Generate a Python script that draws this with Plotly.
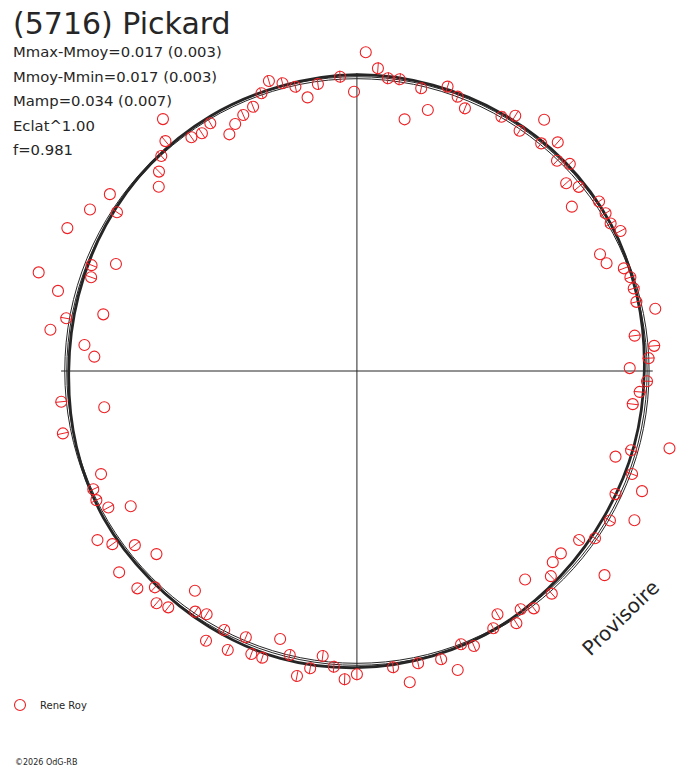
import numpy as np
import plotly.graph_objects as go

# ---------------- data ----------------
# observations: polar angle (deg, counter-clockwise from east) and radial value
OBS_THETA = [
    88.4, 86.0, 83.9, 81.6, 77.1, 90.6, 74.7, 79.2, 72.2, 69.7, 67.5, 60.2, 58.0, 55.7, 53.1,
    50.8, 48.5, 46.2, 44.0, 41.7, 39.5, 37.2, 34.8, 32.2, 30.0, 27.8, 25.5, 23.2, 20.9, 18.8,
    16.5, 13.8, 11.7, 7.2, 4.8, 2.5, 0.6,
    358.0, 355.8, 353.2, 346.2, 344.0, 341.8, 339.6, 337.3, 334.7, 331.9, 329.6, 325.1, 322.95,
    318.4, 315.9, 320.7, 313.6, 309.1, 311.4, 306.9, 304.7, 300.2, 302.5, 298.1, 291.0, 293.2,
    286.4, 288.75, 281.9, 277.0, 279.7, 270.0,
    185.9, 188.1, 191.9, 201.8, 204.0, 206.2, 208.6, 210.7, 212.9, 215.1, 217.9, 222.2, 220.05,
    224.5, 226.75, 233.4, 229.0, 231.2, 235.9, 238.1, 242.7, 247.2, 253.9, 240.6, 245.0, 249.4,
    251.6, 256.6, 263.1, 261.0, 265.5, 258.8, 267.7,
    107.0, 104.6, 102.3, 97.8, 93.3, 100.3, 109.1, 111.6, 114.1, 116.4, 118.5, 120.8, 123.3,
    125.5, 127.8, 130.0, 132.5, 135.0, 137.3, 144.6, 146.7, 149.0, 153.9, 158.4, 156.2, 160.7,
    162.9, 165.1, 169.8, 167.5, 172.4, 174.6, 176.9,
]
OBS_R = [
    318.8, 303.4, 294.4, 294.9, 290.0, 279.3, 270.6, 256.2, 298.7, 292.5, 284.3, 293.0, 301.0,
    290.8, 314.1, 293.7, 305.3, 291.2, 298.1, 282.3, 289.5, 271.8, 297.0, 296.0, 295.1, 300.2,
    271.3, 273.6, 287.8, 291.0, 290.8, 289.9, 306.9, 282.0, 300.5, 294.1, 274.8,
    292.4, 285.6, 279.8, 324.2, 287.3, 274.2, 295.7, 311.3, 288.1, 316.9, 295.5, 292.4, 280.4,
    274.7, 274.7, 322.3, 283.3, 268.6, 296.8, 296.8, 289.7, 281.5, 299.0, 291.6, 292.7, 299.2,
    300.5, 315.8, 298.7, 298.5, 315.8, 303.3,
    299.4, 257.1, 302.7, 277.6, 290.7, 292.5, 285.2, 265.0, 311.3, 301.1, 283.5, 272.6, 312.9,
    310.1, 297.0, 273.7, 307.7, 303.3, 290.6, 286.5, 291.4, 288.8, 278.9, 309.7, 307.9, 302.3,
    302.1, 292.0, 287.1, 301.0, 296.6, 310.9, 308.5,
    303.2, 297.4, 290.9, 289.7, 294.8, 278.1, 293.9, 284.2, 280.4, 275.8, 269.3, 288.4, 284.4,
    287.1, 318.8, 300.1, 291.7, 282.0, 271.6, 305.3, 289.2, 313.7, 324.8, 287.5, 265.3, 283.7,
    335.4, 311.6, 297.5, 261.7, 311.5, 275.7, 264.9,
]
# 1 = radial error bar visible for that observation
OBS_ERR_SHOWN = [
    0, 1, 1, 1, 1, 0, 0, 0, 1, 1, 1, 1, 1, 1, 0, 1, 1, 1, 1, 1, 1, 0, 1, 1, 1, 1, 0, 0, 1, 1,
    1, 1, 0, 1, 1, 1, 0,
    1, 1, 1, 0, 1, 0, 1, 0, 1, 0, 1, 1, 1, 0, 0, 0, 1, 0, 1, 1, 1, 1, 1, 1, 1, 1, 1, 0, 1, 1,
    0, 1,
    1, 0, 1, 0, 1, 1, 1, 0, 0, 1, 1, 0, 0, 1, 1, 0, 1, 1, 1, 1, 1, 1, 0, 1, 1, 1, 1, 1, 1, 1,
    1, 1, 1,
    1, 1, 1, 1, 1, 0, 1, 1, 1, 0, 0, 1, 1, 1, 0, 1, 1, 1, 0, 0, 1, 0, 0, 1, 0, 1, 0, 0, 1, 0,
    0, 0, 0,
]
ERR_HALF = 6.0

# fitted light curve (radial value every 15 deg)
FIT_THETA = [0, 15, 30, 45, 60, 75, 90, 105, 120, 135, 150, 165, 180, 195, 210, 225,
             240, 255, 270, 285, 300, 315, 330, 345, 360]
FIT_R = [289.5, 292.0, 295.0, 296.0, 296.0, 296.0, 296.3, 295.0, 294.5, 293.5, 292.0, 290.5,
         290.3, 292.5, 294.5, 294.5, 296.0, 297.5, 296.7, 295.0, 293.0, 290.0, 288.5, 289.0,
         289.5]

# reference circles (mean level) and length of the axis cross
REF_CIRCLES = [292.3, 294.3]
AXIS_R = 298.0

TITLE = "(5716) Pickard"
STATS = ["Mmax-Mmoy=0.017 (0.003)", "Mmoy-Mmin=0.017 (0.003)", "Mamp=0.034 (0.007)",
         "Eclat^1.00", "f=0.981"]
OBSERVER = "Rene Roy"

# ---------------- figure ----------------
W, H = 688, 768
CX, CY = 354.5, 371.0          # centre of the diagram in page pixels
RED = "rgb(238,32,36)"
INK = "#262626"
FONT = "DejaVu Sans"


def to_xy(theta_deg, r):
    t = np.radians(np.asarray(theta_deg, dtype=float))
    r = np.asarray(r, dtype=float)
    return r * np.cos(t), r * np.sin(t)


ox, oy = to_xy(OBS_THETA, OBS_R)
fx, fy = to_xy(FIT_THETA, FIT_R)

ex, ey = [], []
for t, r, s in zip(OBS_THETA, OBS_R, OBS_ERR_SHOWN):
    if s:
        (x0, x1), (y0, y1) = to_xy([t, t], [r - ERR_HALF, r + ERR_HALF])
        ex += [x0, x1, None]
        ey += [y0, y1, None]

fig = go.Figure()
# axis cross
fig.add_trace(go.Scatter(x=[-AXIS_R, AXIS_R, None, 0, 0], y=[0, 0, None, -AXIS_R, AXIS_R],
                         mode="lines", line=dict(color=INK, width=1),
                         showlegend=False, hoverinfo="skip"))
# fitted curve
fig.add_trace(go.Scatter(x=fx, y=fy, mode="lines",
                         line=dict(color=INK, width=2.8, shape="spline", smoothing=1.0),
                         showlegend=False, hoverinfo="skip"))
# radial error bars
fig.add_trace(go.Scatter(x=ex, y=ey, mode="lines", line=dict(color=RED, width=1),
                         showlegend=False, hoverinfo="skip"))
# observations
fig.add_trace(go.Scatter(x=ox, y=oy, mode="markers", name=OBSERVER,
                         marker=dict(symbol="circle-open", size=11, color=RED,
                                     line=dict(width=1.1, color=RED))))

shapes = [dict(type="circle", xref="x", yref="y", x0=-rc, y0=-rc, x1=rc, y1=rc,
               line=dict(color=INK, width=1), layer="below") for rc in REF_CIRCLES]

fig.update_layout(
    width=W, height=H,
    margin=dict(l=0, r=0, t=0, b=0),
    paper_bgcolor="white", plot_bgcolor="white",
    font=dict(family=FONT, color=INK),
    xaxis=dict(range=[-CX, W - CX], visible=False, fixedrange=True),
    yaxis=dict(range=[-(H - CY), CY], visible=False, fixedrange=True),
    shapes=shapes,
    showlegend=True,
    legend=dict(x=-0.008, xanchor="left", y=1 - 705 / H, yanchor="middle",
                font=dict(family=FONT, size=10, color=INK), bgcolor="rgba(0,0,0,0)"),
)

ann = [dict(text=TITLE, x=6 / W, y=1 - 23.5 / H, font=dict(size=30))]
for i, s in enumerate(STATS):
    ann.append(dict(text=s, x=6.5 / W, y=1 - (51.5 + 24.6 * i) / H, font=dict(size=14.8)))
ann.append(dict(text="\u00a92026 OdG-RB", x=8 / W, y=1 - 762.5 / H, font=dict(size=8)))
for a in ann:
    a.update(xref="paper", yref="paper", xanchor="left", yanchor="middle", showarrow=False)
    a["font"].update(family=FONT, color=INK)
ann.append(dict(text="Provisoire", x=620 / W, y=1 - 618 / H, xref="paper", yref="paper",
                xanchor="center", yanchor="middle", textangle=-44, showarrow=False,
                font=dict(family=FONT, size=20, color=INK)))
fig.update_layout(annotations=ann)

fig.write_html("out.html", config={"displayModeBar": False},
               post_script="document.body.style.margin='0';document.body.style.overflow='hidden';")
